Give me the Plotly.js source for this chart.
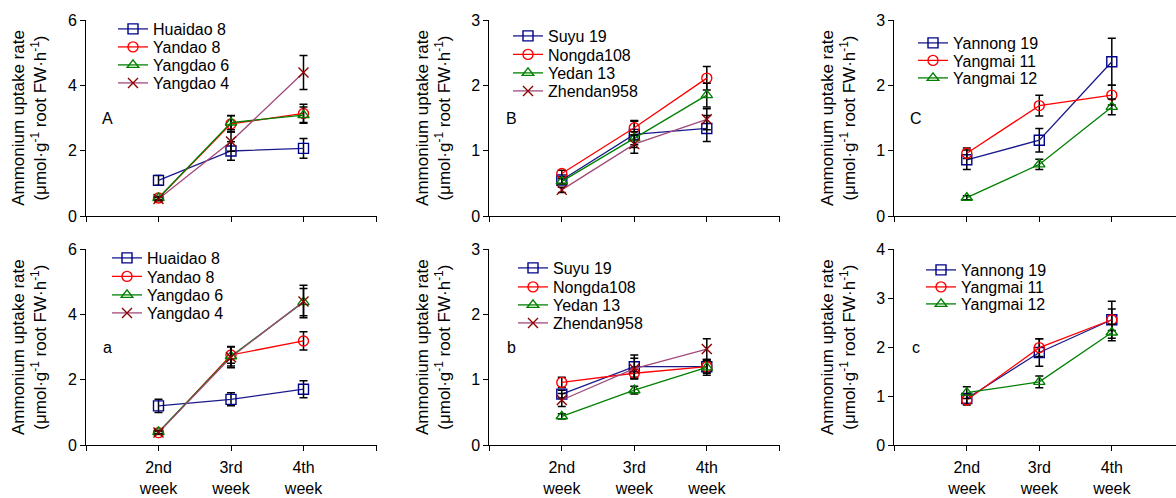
<!DOCTYPE html>
<html>
<head>
<meta charset="utf-8">
<script src="https://cdn.plot.ly/plotly-3.0.1.min.js"></script>
<style>html,body{margin:0;padding:0;background:#fff;}#chart{width:1176px;height:498px;}</style>
</head>
<body>
<div id="chart"></div>
<script>
// ---------- data ----------
const weekPos = [1, 2, 3];
const weekLabels = ['2nd<br>week', '3rd<br>week', '4th<br>week'];

// Panel A (rice, top)
const riceNames = ['Huaidao 8', 'Yandao 8', 'Yangdao 6', 'Yangdao 4'];
const huaidao8_A = [1.09, 1.99, 2.07];   const huaidao8_A_err = [0.15, 0.28, 0.30];
const yandao8_A = [0.55, 2.82, 3.14];    const yandao8_A_err = [0.05, 0.25, 0.28];
const yangdao6_A = [0.55, 2.86, 3.09];   const yangdao6_A_err = [0.05, 0.22, 0.25];
const yangdao4_A = [0.52, 2.28, 4.39];   const yangdao4_A_err = [0.05, 0.30, 0.52];

// Panel B (maize, top)
const maizeNames = ['Suyu 19', 'Nongda108', 'Yedan 13', 'Zhendan958'];
const suyu19_B = [0.55, 1.25, 1.34];     const suyu19_B_err = [0.05, 0.20, 0.20];
const nongda108_B = [0.65, 1.35, 2.11];  const nongda108_B_err = [0.05, 0.11, 0.18];
const yedan13_B = [0.53, 1.19, 1.85];    const yedan13_B_err = [0.04, 0.10, 0.18];
const zhendan958_B = [0.40, 1.10, 1.48]; const zhendan958_B_err = [0.04, 0.14, 0.16];

// Panel C (wheat, top)
const wheatNames = ['Yannong 19', 'Yangmai 11', 'Yangmai 12'];
const yannong19_C = [0.86, 1.16, 2.36];  const yannong19_C_err = [0.15, 0.18, 0.36];
const yangmai11_C = [0.96, 1.69, 1.85];  const yangmai11_C_err = [0.08, 0.16, 0.15];
const yangmai12_C = [0.28, 0.79, 1.67];  const yangmai12_C_err = [0.03, 0.08, 0.12];

// Panel a (rice, bottom)
const huaidao8_a = [1.20, 1.40, 1.71];   const huaidao8_a_err = [0.20, 0.20, 0.26];
const yandao8_a = [0.38, 2.76, 3.19];    const yandao8_a_err = [0.05, 0.25, 0.28];
const yangdao6_a = [0.40, 2.72, 4.38];   const yangdao6_a_err = [0.05, 0.30, 0.42];
const yangdao4_a = [0.38, 2.69, 4.40];   const yangdao4_a_err = [0.05, 0.32, 0.50];

// Panel b (maize, bottom)
const suyu19_b = [0.78, 1.20, 1.20];     const suyu19_b_err = [0.06, 0.18, 0.10];
const nongda108_b = [0.96, 1.10, 1.20];  const nongda108_b_err = [0.08, 0.06, 0.08];
const yedan13_b = [0.44, 0.84, 1.19];    const yedan13_b_err = [0.04, 0.06, 0.12];
const zhendan958_b = [0.69, 1.17, 1.47]; const zhendan958_b_err = [0.10, 0.16, 0.16];

// Panel c (wheat, bottom)
const yannong19_c = [0.95, 1.89, 2.56];  const yannong19_c_err = [0.10, 0.28, 0.22];
const yangmai11_c = [0.92, 1.99, 2.56];  const yangmai11_c_err = [0.10, 0.18, 0.38];
const yangmai12_c = [1.07, 1.29, 2.30];  const yangmai12_c_err = [0.12, 0.12, 0.17];

const panelLetters = ['A', 'B', 'C', 'a', 'b', 'c'];
const yMax = [6, 3, 3, 6, 3, 4];
const yTicks = [[0,2,4,6],[0,1,2,3],[0,1,2,3],[0,2,4,6],[0,1,2,3],[0,1,2,3,4]];

// ---------- styles ----------
const FONT = 'Liberation Sans, Arial, sans-serif';
const styles = [
  {line: '#1a1a8c', marker: '#00008b', symbol: 'square-open'},
  {line: '#ff0000', marker: '#ff0000', symbol: 'circle-open'},
  {line: '#008000', marker: '#008000', symbol: 'triangle-up-open'},
  {line: '#a04a7a', marker: '#8b0000', symbol: 'x-thin-open'}
];

const W = 1176, H = 498;
// legend entry anchor (left px) and row centre (px) for every panel
const legendLeftPx = [113, 508, 913, 107, 513, 921];
const legendRowsPx = [
  [29, 47, 65, 83],
  [36, 54.5, 73, 91],
  [43, 60.5, 78],
  [258, 276.5, 295, 313],
  [268, 287, 305, 323],
  [270, 287, 304]
];

const traces = [];
const legendDefs = [];
let legendCount = 0;
function tr(name, y, err, st, panel) {
  const s = panel === 0 ? '' : String(panel + 1);
  legendCount++;
  const lid = legendCount === 1 ? 'legend' : 'legend' + legendCount;
  const row = traces.filter(t => t._panel === panel).length;
  legendDefs.push({id: lid, x: legendLeftPx[panel], y: legendRowsPx[panel][row]});
  const t = {
    type: 'scatter', mode: 'lines+markers', name: name,
    x: weekPos, y: y,
    xaxis: 'x' + s, yaxis: 'y' + s, legend: lid,
    line: {color: st.line, width: 1.3},
    marker: {symbol: st.symbol, size: 10, color: st.marker, line: {color: st.marker, width: 1.4}},
    error_y: {type: 'data', array: err, visible: true, color: '#000', thickness: 1.5, width: 4},
    cliponaxis: false
  };
  Object.defineProperty(t, '_panel', {value: panel, enumerable: false});
  traces.push(t);
}

tr(riceNames[0], huaidao8_A, huaidao8_A_err, styles[0], 0);
tr(riceNames[1], yandao8_A, yandao8_A_err, styles[1], 0);
tr(riceNames[2], yangdao6_A, yangdao6_A_err, styles[2], 0);
tr(riceNames[3], yangdao4_A, yangdao4_A_err, styles[3], 0);

tr(maizeNames[0], suyu19_B, suyu19_B_err, styles[0], 1);
tr(maizeNames[1], nongda108_B, nongda108_B_err, styles[1], 1);
tr(maizeNames[2], yedan13_B, yedan13_B_err, styles[2], 1);
tr(maizeNames[3], zhendan958_B, zhendan958_B_err, styles[3], 1);

tr(wheatNames[0], yannong19_C, yannong19_C_err, styles[0], 2);
tr(wheatNames[1], yangmai11_C, yangmai11_C_err, styles[1], 2);
tr(wheatNames[2], yangmai12_C, yangmai12_C_err, styles[2], 2);

tr(riceNames[0], huaidao8_a, huaidao8_a_err, styles[0], 3);
tr(riceNames[1], yandao8_a, yandao8_a_err, styles[1], 3);
tr(riceNames[2], yangdao6_a, yangdao6_a_err, styles[2], 3);
tr(riceNames[3], yangdao4_a, yangdao4_a_err, styles[3], 3);

tr(maizeNames[0], suyu19_b, suyu19_b_err, styles[0], 4);
tr(maizeNames[1], nongda108_b, nongda108_b_err, styles[1], 4);
tr(maizeNames[2], yedan13_b, yedan13_b_err, styles[2], 4);
tr(maizeNames[3], zhendan958_b, zhendan958_b_err, styles[3], 4);

tr(wheatNames[0], yannong19_c, yannong19_c_err, styles[0], 5);
tr(wheatNames[1], yangmai11_c, yangmai11_c_err, styles[1], 5);
tr(wheatNames[2], yangmai12_c, yangmai12_c_err, styles[2], 5);

// ---------- layout ----------
const xDomPx = [[86, 377], [489.3, 780], [894.3, 1176], [86, 377], [489.3, 780], [894.3, 1176]];
const yDomPx = [[20, 216], [20, 216], [20, 216], [249.3, 445], [249.3, 445], [249.3, 445]];

const layout = {
  width: W, height: H,
  margin: {l: 0, r: 0, t: 0, b: 0},
  paper_bgcolor: '#fff', plot_bgcolor: 'rgba(0,0,0,0)',
  font: {family: FONT, size: 16, color: '#000'},
  annotations: [],
  showlegend: true
};

const yTitle = 'Ammonium uptake rate<br>(μmol·g<sup>-1</sup> root FW·h<sup>-1</sup>)';

for (let i = 0; i < 6; i++) {
  const s = i === 0 ? '' : String(i + 1);
  const xd = xDomPx[i], yd = yDomPx[i];
  const xRangeMax = (xd[1] - xd[0]) / 72.5;
  const bottomRow = i >= 3;
  layout['xaxis' + s] = {
    domain: [xd[0] / W, xd[1] / W],
    anchor: 'y' + s,
    range: [0, xRangeMax],
    tickmode: 'array',
    tickvals: [0, 1, 2, 3, 4],
    ticktext: bottomRow ? [''].concat(weekLabels, ['']) : ['', '', '', '', ''],
    ticks: 'outside', ticklen: 5, tickwidth: 1, tickcolor: '#000',
    ticklabelstandoff: 3,
    showline: true, linecolor: '#000', linewidth: 1,
    showgrid: false, zeroline: false,
    tickfont: {family: FONT, size: 16, color: '#000'},
    fixedrange: true
  };
  layout['yaxis' + s] = {
    domain: [1 - yd[1] / H, 1 - yd[0] / H],
    anchor: 'x' + s,
    range: [0, yMax[i]],
    tickmode: 'array', tickvals: yTicks[i],
    ticks: 'outside', ticklen: 5, tickwidth: 1, tickcolor: '#000',
    showline: true, linecolor: '#000', linewidth: 1,
    showgrid: false, zeroline: false,
    tickfont: {family: FONT, size: 16, color: '#000'},
    title: {text: yTitle, font: {family: FONT, size: 17, color: '#000'}, standoff: 16},
    fixedrange: true
  };
  layout.annotations.push({
    xref: 'x' + s, yref: 'y' + s,
    x: 0.3, y: yMax[i] / 2,
    text: panelLetters[i], showarrow: false,
    xanchor: 'center', yanchor: 'middle',
    font: {family: FONT, size: 16, color: '#000'}
  });
}

legendDefs.forEach(d => {
  layout[d.id] = {
    x: d.x / W, y: 1 - d.y / H,
    xanchor: 'left', yanchor: 'middle',
    bgcolor: 'rgba(0,0,0,0)', borderwidth: 0,
    font: {family: FONT, size: 16, color: '#000'}
  };
});

Plotly.newPlot('chart', traces, layout, {displayModeBar: false, staticPlot: true});
</script>
</body>
</html>
